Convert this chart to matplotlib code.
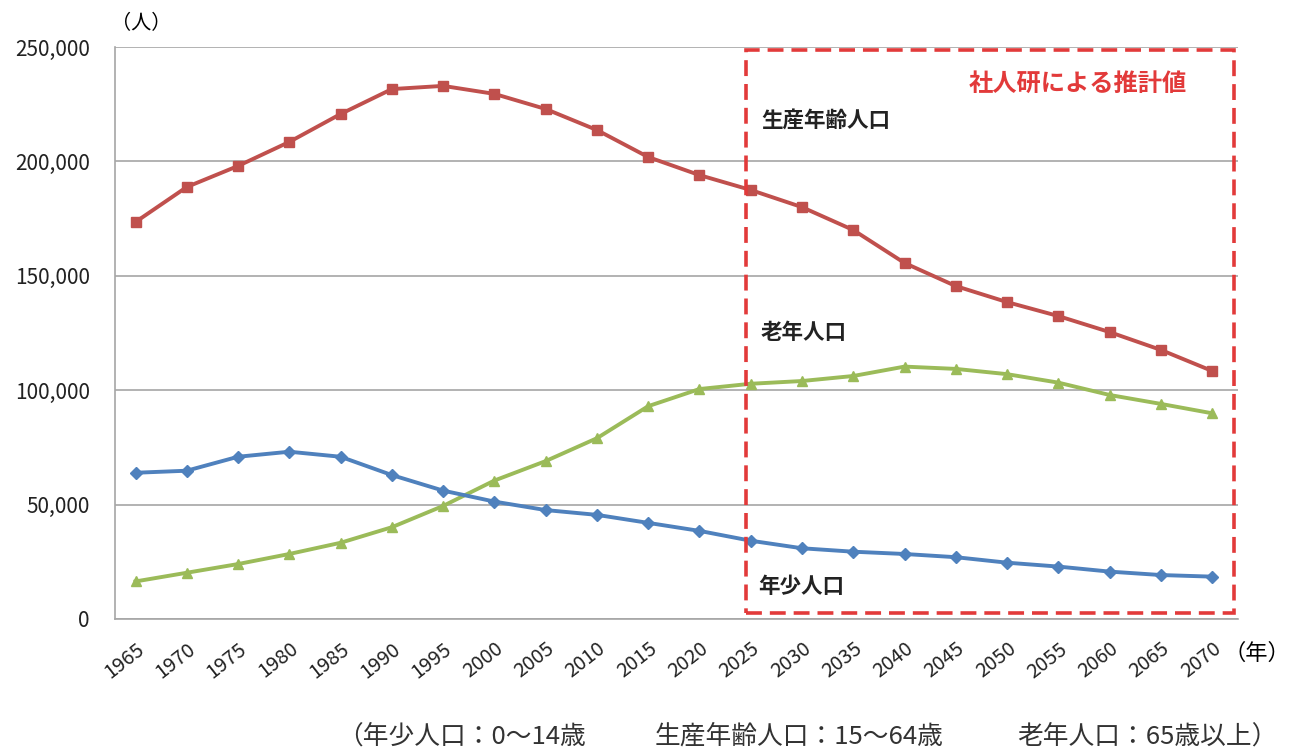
"""
Population by age group, 1965-2070 (estimates from 2025 onward).
"""

import matplotlib.pyplot as plt
from matplotlib.patches import Rectangle
from matplotlib.ticker import FuncFormatter

plt.rcParams['font.family'] = ['Noto Sans CJK JP', 'DejaVu Sans']

years = ['1965', '1970', '1975', '1980', '1985', '1990', '1995', '2000',
         '2005', '2010', '2015', '2020', '2025', '2030', '2035', '2040',
         '2045', '2050', '2055', '2060', '2065', '2070']

# working-age population (15-64)
working_age = [173500, 188800, 198000, 208500, 220700, 231600, 233000, 229500,
               222900, 213700, 201900, 194000, 187500, 180000, 170000, 155600,
               145500, 138500, 132400, 125400, 117600, 108400]

# elderly population (65+)
elderly = [16400, 20200, 24000, 28400, 33300, 40100, 49400, 60500,
           69000, 79000, 93000, 100500, 102800, 104000, 106200, 110300,
           109300, 107000, 103300, 97900, 94000, 89900]

# young population (0-14)
young = [63900, 64800, 70900, 73100, 70900, 62900, 56100, 51300,
         47600, 45500, 42000, 38500, 34200, 30900, 29400, 28400,
         27000, 24600, 22900, 20700, 19200, 18500]

notes = ['（年少人口：0～14歳', '生産年齢人口：15～64歳', '老年人口：65歳以上）']

RED = '#C0504D'
GREEN = '#9BBB59'
BLUE = '#4F81BD'
BOX_RED = '#E23A3A'

fig = plt.figure(figsize=(12.95, 7.53), dpi=100)
ax = fig.add_axes([0.0888, 0.178, 0.867, 0.7596])

x = list(range(len(years)))
ax.plot(x, working_age, color=RED, lw=2.8, marker='s', ms=7.5, zorder=3)
ax.plot(x, elderly, color=GREEN, lw=2.8, marker='^', ms=7.5, zorder=3)
ax.plot(x, young, color=BLUE, lw=2.8, marker='D', ms=6, zorder=3)

ax.set_xlim(-0.4, 21.5)
ax.set_ylim(0, 250000)
ax.set_yticks(range(0, 250001, 50000))
ax.yaxis.set_major_formatter(FuncFormatter(lambda v, p: f'{int(v):,}'))
ax.set_xticks(x)
ax.set_xticklabels(years, rotation=38, ha='right', va='top',
                   rotation_mode='anchor', fontsize=14.5)
ax.tick_params(axis='y', labelsize=15, length=0, pad=18, labelcolor='#222222')
ax.tick_params(axis='x', length=0, pad=14, labelcolor='#222222')

ax.grid(axis='y', color='#A6A6A6', lw=1.2)
ax.set_axisbelow(True)
for side in ['top', 'right']:
    ax.spines[side].set_visible(False)
for side in ['left', 'bottom']:
    ax.spines[side].set_color('#A6A6A6')
    ax.spines[side].set_linewidth(1.2)

# projection box
box = Rectangle((11.9, 2600), 9.52, 246000, fill=False, ec=BOX_RED,
                lw=2.6, ls=(0, (4.4, 2.2)), zorder=4, clip_on=False)
ax.add_patch(box)

ax.text(20.5, 234000, '社人研による推計値', color=BOX_RED, fontsize=17.5,
        fontweight='bold', ha='right', va='center')
ax.text(12.2, 218000, '生産年齢人口', fontsize=15.5, fontweight='bold',
        va='center', color='#222222')
ax.text(12.2, 125000, '老年人口', fontsize=15.5, fontweight='bold',
        va='center', color='#222222')
ax.text(12.15, 14000, '年少人口', fontsize=15.5, fontweight='bold',
        va='center', color='#222222')

fig.text(0.086, 0.969, '（人）', fontsize=14.5, ha='left', va='center')
fig.text(0.945, 0.132, '（年）', fontsize=16, ha='left', va='center')
for pos, note in zip([337, 655, 1017], notes):
    fig.text(pos / 1295, 0.022, note, fontsize=18.5, ha='left', va='center',
             color='#333333')

plt.savefig('out.png', dpi=100)
